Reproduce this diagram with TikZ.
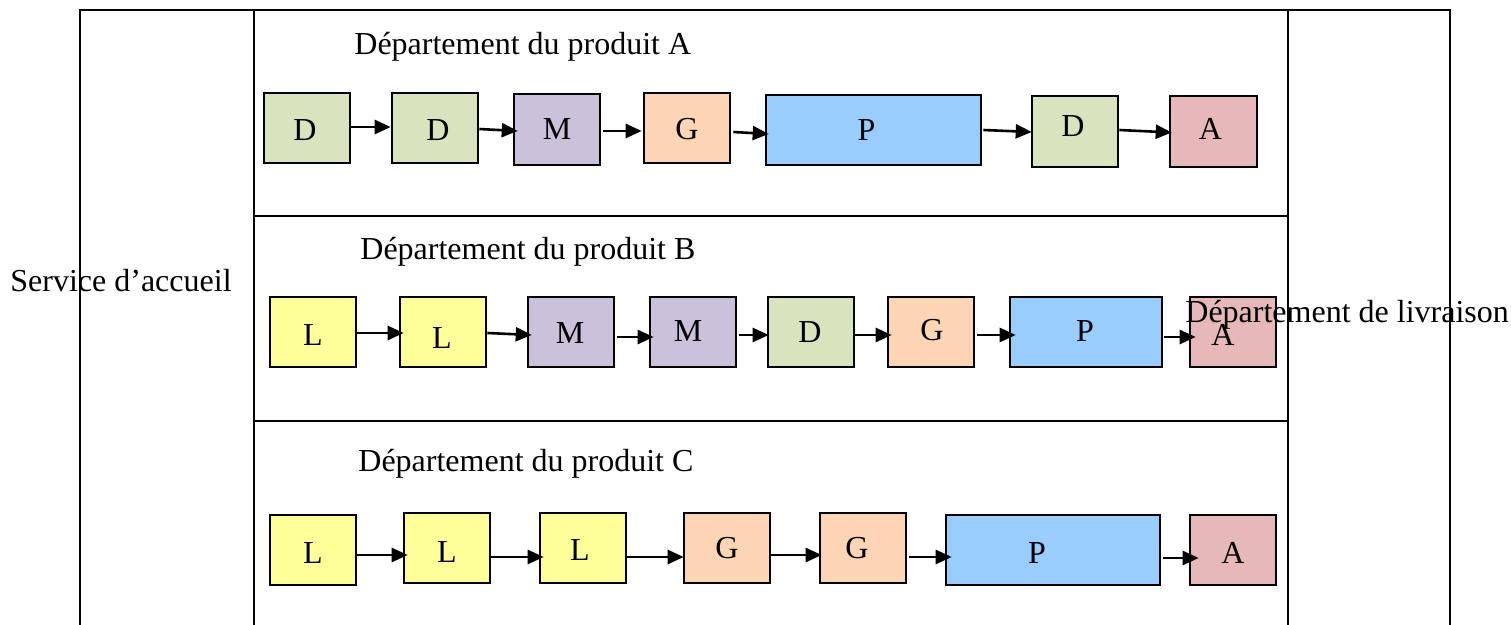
\documentclass[tikz,border=0pt]{standalone}
\usepackage{fontspec}
\setmainfont{Liberation Serif}
\usetikzlibrary{arrows.meta,calc}
\definecolor{cG}{HTML}{D7E4BD}
\definecolor{cM}{HTML}{CCC1DA}
\definecolor{cO}{HTML}{FCD5B5}
\definecolor{cB}{HTML}{99CCFF}
\definecolor{cR}{HTML}{E6B9B8}
\definecolor{cY}{HTML}{FFFF99}
\tikzset{
  bx/.style={draw, rectangle, line width=1.3pt, inner sep=0pt},
  lbl/.style={font=\fontsize{16}{19}\selectfont, inner sep=0pt},
  txt/.style={font=\fontsize{16}{19}\selectfont, inner sep=0pt, anchor=base west},
  arr/.style={line width=1.3pt, -{Triangle[length=8pt,width=7pt]}},
  frame/.style={line width=1.1pt}
}
% name, x1, y1, x2, y2, colour, text, dx, dy  (pixel units, y downwards)
\newcommand\procbox[9]{\node[bx,fill=#6,minimum width={(#4-#2)*0.5pt},minimum height={(#5-#3)*0.5pt},label={[lbl,xshift={(#8)*0.5pt},yshift={(0-(#9))*0.5pt}]center:#7}] (#1) at ({(#2+#4)/2},{(#3+#5)/2}) {};}
\begin{document}
\begin{tikzpicture}[x=0.5pt,y=-0.5pt]
\useasboundingbox (0,0) rectangle (1511,625);
% frame
\coordinate (oTL) at (80,10);
\coordinate (oTR) at (1450,10);
\coordinate (oBL) at (80,625);
\coordinate (oBR) at (1450,625);
\coordinate (iTL) at (254,10);
\coordinate (iTR) at (1288,10);
\coordinate (iBL) at (254,625);
\coordinate (iBR) at (1288,625);
\coordinate (h1L) at (254,216);
\coordinate (h1R) at (1288,216);
\coordinate (h2L) at (254,421);
\coordinate (h2R) at (1288,421);
\draw[frame] (oBL) -- (oTL) -- (oTR) -- (oBR);
\draw[frame] (iBL) -- (iTL) -- (iTR) -- (iBR);
\draw[frame] (h1L) -- (h1R);
\draw[frame] (h2L) -- (h2R);
% titles
\node[txt] (tA) at (354,55) {Département du produit A};
\node[txt] (tB) at (360,260) {Département du produit B};
\node[txt] (tC) at (358,472) {Département du produit C};
\node[txt] (tS) at (10,292) {Service d’accueil};
% row A
\procbox{a1}{264}{93}{350}{163}{cG}{D}{-2}{2}
\procbox{a2}{392}{93}{478}{163}{cG}{D}{3}{2}
\procbox{a3}{514}{94}{600}{165}{cM}{M}{0}{0}
\procbox{a4}{644}{93}{730}{163}{cO}{G}{0}{1}
\procbox{a5}{766}{95}{981}{165}{cB}{P}{-7}{0}
\procbox{a6}{1032}{96}{1118}{167}{cG}{D}{-2}{-5}
\procbox{a7}{1170}{96}{1257}{167}{cR}{A}{-3}{-3}
% row B
\procbox{b1}{270}{297}{356}{367}{cY}{L}{0}{3}
\procbox{b2}{400}{297}{486}{367}{cY}{L}{-1}{6}
\procbox{b3}{528}{297}{614}{367}{cM}{M}{-1}{1}
\procbox{b4}{650}{297}{736}{367}{cM}{M}{-5}{-1}
\procbox{b5}{768}{297}{854}{367}{cG}{D}{-1}{0}
\procbox{b6}{888}{297}{974}{367}{cO}{G}{1}{-2}
\procbox{b7}{1010}{297}{1162}{367}{cB}{P}{-1}{-1}
\procbox{b8}{1190}{297}{1276}{367}{cR}{A}{-10}{3}
% row C
\procbox{c1}{270}{515}{356}{585}{cY}{L}{0}{3}
\procbox{c2}{404}{513}{490}{583}{cY}{L}{0}{4}
\procbox{c3}{540}{513}{626}{583}{cY}{L}{-3}{2}
\procbox{c4}{684}{513}{770}{583}{cO}{G}{0}{0}
\procbox{c5}{820}{513}{906}{583}{cO}{G}{-6}{0}
\procbox{c6}{946}{515}{1160}{585}{cB}{P}{-16}{3}
\procbox{c7}{1190}{515}{1276}{585}{cR}{A}{0}{3}
% delivery label (drawn over box b8)
\node[txt] (tL) at (1185,323) {Département de livraison};
% arrows row A
\draw[arr] ($(a1.east)+(-1,-1)$) -- ($(a2.west)+(0,-1)$);
\draw[arr] ($(a2.east)+(0,1)$) -- ($(a3.west)+(5,1.5)$);
\draw[arr] ($(a3.east)+(2,1.5)$) -- ($(a4.west)+(-1,3)$);
\draw[arr] ($(a4.east)+(2,4)$) -- ($(a5.west)+(4,4)$);
\draw[arr] ($(a5.east)+(1,0)$) -- ($(a6.west)+(1,0.5)$);
\draw[arr] ($(a6.east)+(0,-1.5)$) -- ($(a7.west)+(3,1)$);
% arrows row B
\draw[arr] ($(b1.east)+(0,1)$) -- ($(b2.west)+(5,1)$);
\draw[arr] ($(b2.east)+(0,1)$) -- ($(b3.west)+(5,3)$);
\draw[arr] ($(b3.east)+(2,5)$) -- ($(b4.west)+(5,5)$);
\draw[arr] ($(b4.east)+(2,3)$) -- ($(b5.west)+(2,3)$);
\draw[arr] ($(b5.east)+(0,3)$) -- ($(b6.west)+(5,3)$);
\draw[arr] ($(b6.east)+(2,3)$) -- ($(b7.west)+(7,3)$);
\draw[arr] ($(b7.east)+(1,5)$) -- ($(b8.west)+(7,5)$);
% arrows row C
\draw[arr] ($(c1.east)+(0,5)$) -- ($(c2.west)+(5,7)$);
\draw[arr] ($(c2.east)+(0,9)$) -- ($(c3.west)+(5,9)$);
\draw[arr] ($(c3.east)+(0,9)$) -- ($(c4.west)+(1,9)$);
\draw[arr] ($(c4.east)+(0,7)$) -- ($(c5.west)+(3,7)$);
\draw[arr] ($(c5.east)+(2,9)$) -- ($(c6.west)+(7,7)$);
\draw[arr] ($(c6.east)+(2,8)$) -- ($(c7.west)+(10,8)$);
\end{tikzpicture}
\end{document}
